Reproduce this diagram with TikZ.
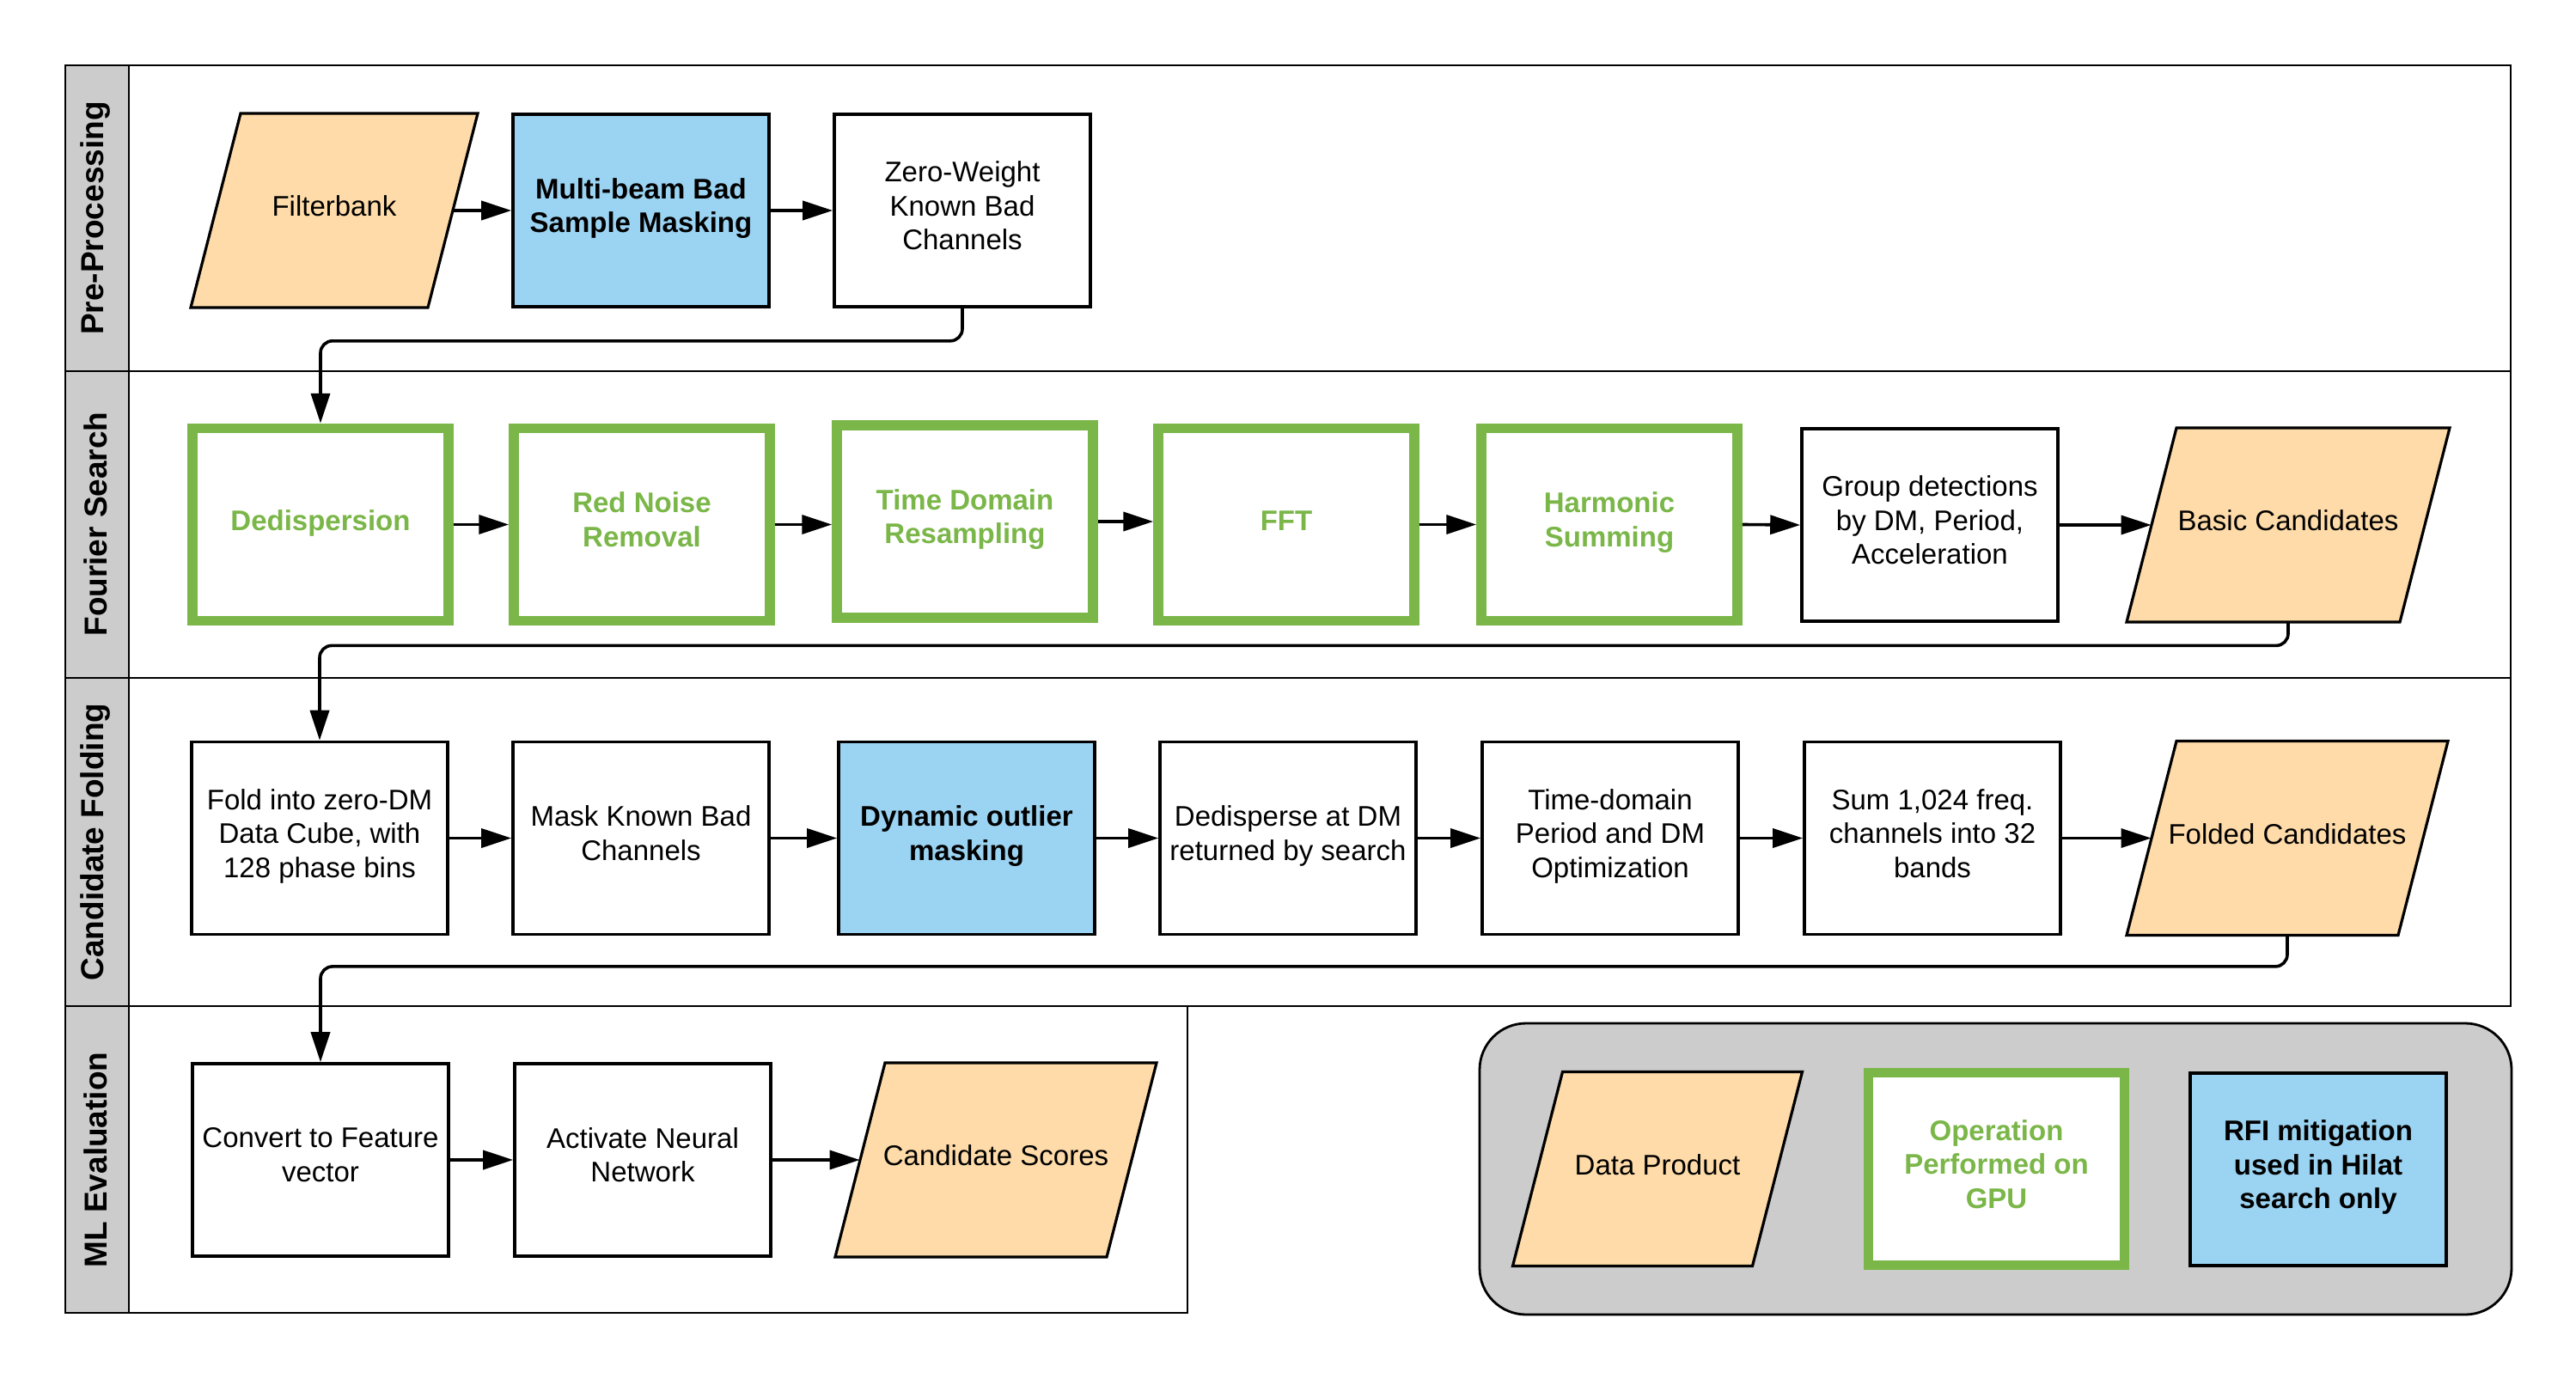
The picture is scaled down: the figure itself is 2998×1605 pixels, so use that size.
\documentclass[tikz,border=0pt]{standalone}
\usepackage{fontspec}
\setmainfont{Liberation Sans}
\usetikzlibrary{arrows.meta,calc}
\definecolor{gpugreen}{RGB}{122,182,72}
\definecolor{rfiblue}{RGB}{155,211,242}
\definecolor{datapeach}{RGB}{254,219,168}
\definecolor{lanegrey}{RGB}{204,204,204}
\newcommand{\linestrut}{\rule[-5.8pt]{0pt}{18.3pt}}
% data-product parallelogram: name, x, y, half width (px), text
\newcommand{\dprod}[5]{%
  \draw[dpshape] (#2-#4+29,#3-113) -- (#2+#4+29,#3-113) -- (#2+#4-29,#3+113) -- (#2-#4-29,#3+113) -- cycle;
  \node[dptext, minimum width=#4pt] (#1) at (#2,#3) {#5};}
\begin{document}
\begin{tikzpicture}[x=0.5pt,y=-0.5pt,
  every node/.style={font={\fontsize{16.5}{19.8}\selectfont}, align=center, inner sep=0pt},
  txt/.style={execute at begin node={\linestrut}, execute at end node={\linestrut}},
  proc/.style={txt, draw=black, line width=1.8pt, fill=white, minimum width=149pt, minimum height=112pt},
  gpu/.style={txt, draw=gpugreen, line width=5.75pt, fill=white, text=gpugreen, font={\fontsize{16.5}{19.8}\selectfont\bfseries}, minimum width=149pt, minimum height=112pt},
  rfi/.style={proc, fill=rfiblue, font={\fontsize{16.5}{19.8}\selectfont\bfseries}},
  dptext/.style={txt, minimum height=113pt},
  dpshape/.style={draw=black, line width=1.6pt, fill=datapeach},
  conn/.style={line width=1.8pt, rounded corners=7pt, -{Triangle[length=17.5pt,width=11pt]}},
  lane/.style={draw=black, line width=1pt},
  lanelabel/.style={font={\fontsize{18.5}{22}\selectfont\bfseries}, rotate=90},
  legendbox/.style={draw=black, line width=1.4pt, fill=lanegrey, rounded corners=27pt},
]
\useasboundingbox (0,0) rectangle (2998,1605);

% swimlanes
\fill[lanegrey] (76,76) rectangle (150,1528);
\draw[lane] (76,76) rectangle (2922,1171);
\draw[lane] (76,1171) rectangle (1382,1528);
\draw[lane] (150,76) -- (150,1528);
\draw[lane] (76,432) -- (2922,432);
\draw[lane] (76,789) -- (2922,789);
\node[lanelabel] (l1) at (111,254) {Pre-Processing};
\node[lanelabel] (l2) at (111,610) {Fourier Search};
\node[lanelabel] (l3) at (111,980) {Candidate Folding};
\node[lanelabel] (l4) at (111,1350) {ML Evaluation};

% Pre-processing
\dprod{fb}{389}{245}{138}{Filterbank}
\node[rfi] (mb) at (746,245) {Multi-beam Bad\\Sample Masking};
\node[proc] (zw) at (1120,245) {Zero-Weight\\Known Bad\\Channels};

% Fourier search
\node[gpu] (dd) at (373,610.5) {Dedispersion};
\node[gpu] (rn) at (747,610.5) {Red Noise\\Removal};
\node[gpu] (td) at (1123,607) {Time Domain\\Resampling};
\node[gpu] (fft) at (1497,610.5) {FFT};
\node[gpu] (hs) at (1873,610.5) {Harmonic\\Summing};
\node[proc] (gd) at (2246,611) {Group detections\\by DM, Period,\\Acceleration};
\dprod{bc}{2663}{611}{159}{Basic Candidates}

% Candidate folding
\node[proc] (fo) at (372,975.5) {Fold into zero-DM\\Data Cube, with\\128 phase bins};
\node[proc] (mk) at (746,975.5) {Mask Known Bad\\Channels};
\node[rfi] (dy) at (1125,975.5) {Dynamic outlier\\masking};
\node[proc] (dp) at (1499,975.5) {Dedisperse at DM\\returned by search};
\node[proc] (tdo) at (1874,975.5) {Time-domain\\Period and DM\\Optimization};
\node[proc] (sm) at (2249,975.5) {Sum 1,024 freq.\\channels into 32\\bands};
\dprod{fc}{2662}{975.5}{158}{Folded Candidates}

% ML evaluation
\node[proc] (cv) at (373,1350) {Convert to Feature\\vector};
\node[proc] (an) at (748,1350) {Activate Neural\\Network};
\dprod{cs}{1159}{1350}{158}{Candidate Scores}

% legend
\draw[legendbox] (1722,1191) rectangle (2923,1530);
\dprod{lgd}{1929}{1360.5}{139.5}{Data Product}
\node[gpu] (lgg) at (2323.5,1360.5) {Operation\\Performed on\\GPU};
\node[rfi] (lgr) at (2698,1361) {RFI mitigation\\used in Hilat\\search only};

% connectors
\draw[conn] (fb.east) -- (mb.west);
\draw[conn] (mb.east) -- (zw.west);
\draw[conn] (zw.south) -- ++(0,38) -| (dd.north);

\draw[conn] (dd.east) -- (rn.west);
\draw[conn] (rn.east) -- (rn.east -| td.west);
\draw[conn] (td.east) -- (td.east -| fft.west);
\draw[conn] (fft.east) -- (hs.west);
\draw[conn] (hs.east) -- (gd.west);
\draw[conn] (gd.east) -- (bc.west);
\draw[conn] (bc.south) -- ++(0,27) -| (fo.north);

\draw[conn] (fo.east) -- (mk.west);
\draw[conn] (mk.east) -- (dy.west);
\draw[conn] (dy.east) -- (dp.west);
\draw[conn] (dp.east) -- (tdo.west);
\draw[conn] (tdo.east) -- (sm.west);
\draw[conn] (sm.east) -- (fc.west);
\draw[conn] (fc.south) -- ++(0,36) -| (cv.north);

\draw[conn] (cv.east) -- (an.west);
\draw[conn] (an.east) -- (cs.west);
\end{tikzpicture}
\end{document}
